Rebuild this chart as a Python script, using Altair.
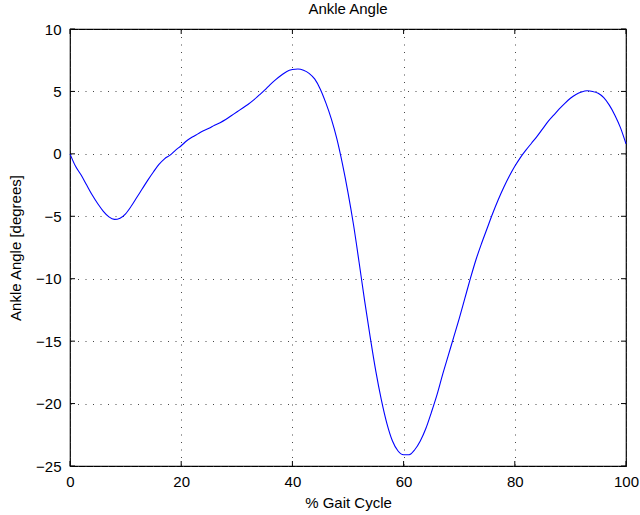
import altair as alt
import pandas as pd

# Data
gait_pct = list(range(0, 101))
ankle_deg = [
    0.0, -1.0, -1.7, -2.5, -3.3, -4.0, -4.6, -5.05, -5.25, -5.15,
    -4.8, -4.2, -3.5, -2.8, -2.1, -1.45, -0.85, -0.4, -0.1, 0.3,
    0.65, 1.05, 1.35, 1.6, 1.85, 2.05, 2.3, 2.5, 2.75, 3.05,
    3.35, 3.65, 3.95, 4.3, 4.7, 5.1, 5.55, 5.95, 6.3, 6.6,
    6.75, 6.8, 6.7, 6.45, 6.0, 5.2, 4.1, 2.8, 1.2, -0.8,
    -3.1, -5.7, -8.7, -11.8, -14.7, -17.4, -19.7, -21.6, -23.0, -23.8,
    -24.1, -24.1, -23.7, -23.0, -22.0, -20.7, -19.3, -17.7, -16.2, -14.7,
    -13.2, -11.6, -10.0, -8.5, -7.2, -6.0, -4.8, -3.7, -2.7, -1.8,
    -1.0, -0.3, 0.3, 0.85, 1.4, 2.0, 2.6, 3.1, 3.6, 4.05,
    4.45, 4.75, 4.95, 5.05, 5.0, 4.85, 4.5, 3.9, 3.1, 2.1,
    0.8,
]
x_ticks = [0, 20, 40, 60, 80, 100]
y_ticks = [-25, -20, -15, -10, -5, 0, 5, 10]

W, H = 556, 437
FONT = "Liberation Sans"

df = pd.DataFrame({"x": gait_pct, "y": ankle_deg})
xt = pd.DataFrame({"t": x_ticks})
yt = pd.DataFrame({"t": y_ticks})

xscale = alt.Scale(domain=[0, 100], nice=False)
yscale = alt.Scale(domain=[-25, 10], nice=False)

line = alt.Chart(df).mark_line(color="#0000ff", strokeWidth=1.1,
                               interpolate="monotone").encode(
    x=alt.X("x:Q", scale=xscale, title="% Gait Cycle",
            axis=alt.Axis(values=x_ticks, grid=True, tickSize=0, domain=False,
                          labelFlush=False, labelPadding=8, titlePadding=6,
                          format="d")),
    y=alt.Y("y:Q", scale=yscale, title="Ankle Angle [degrees]",
            axis=alt.Axis(values=y_ticks, grid=True, tickSize=0, domain=False,
                          labelFlush=False, labelPadding=9, titlePadding=12,
                          format="d")),
)

tick_style = dict(color="black", strokeWidth=1)
xt_bot = alt.Chart(xt).mark_rule(**tick_style).encode(
    x=alt.X("t:Q", scale=xscale), y=alt.value(H), y2=alt.value(H - 5))
xt_top = alt.Chart(xt).mark_rule(**tick_style).encode(
    x=alt.X("t:Q", scale=xscale), y=alt.value(0), y2=alt.value(5))
yt_left = alt.Chart(yt).mark_rule(**tick_style).encode(
    y=alt.Y("t:Q", scale=yscale), x=alt.value(0), x2=alt.value(5))
yt_right = alt.Chart(yt).mark_rule(**tick_style).encode(
    y=alt.Y("t:Q", scale=yscale), x=alt.value(W), x2=alt.value(W - 5))

chart = alt.layer(line, xt_bot, xt_top, yt_left, yt_right).properties(
    width=W, height=H,
    background="white",
    title=alt.TitleParams("Ankle Angle", fontSize=15, font=FONT,
                          fontWeight="normal", offset=5, anchor="middle",
                          color="black"),
    autosize=alt.AutoSizeParams(type="none"),
    padding={"left": 70, "top": 29, "right": 14, "bottom": 49},
).configure_view(
    stroke="black", strokeWidth=1.2
).configure_axis(
    labelFont=FONT, titleFont=FONT, labelFontSize=15, titleFontSize=15,
    labelColor="black", titleColor="black", titleFontWeight="normal",
    gridColor="#333333", gridDash=[1, 6.5], gridWidth=1, gridOpacity=0.9,
)

chart.save("out.html", embed_options={"renderer": "svg", "actions": False})
